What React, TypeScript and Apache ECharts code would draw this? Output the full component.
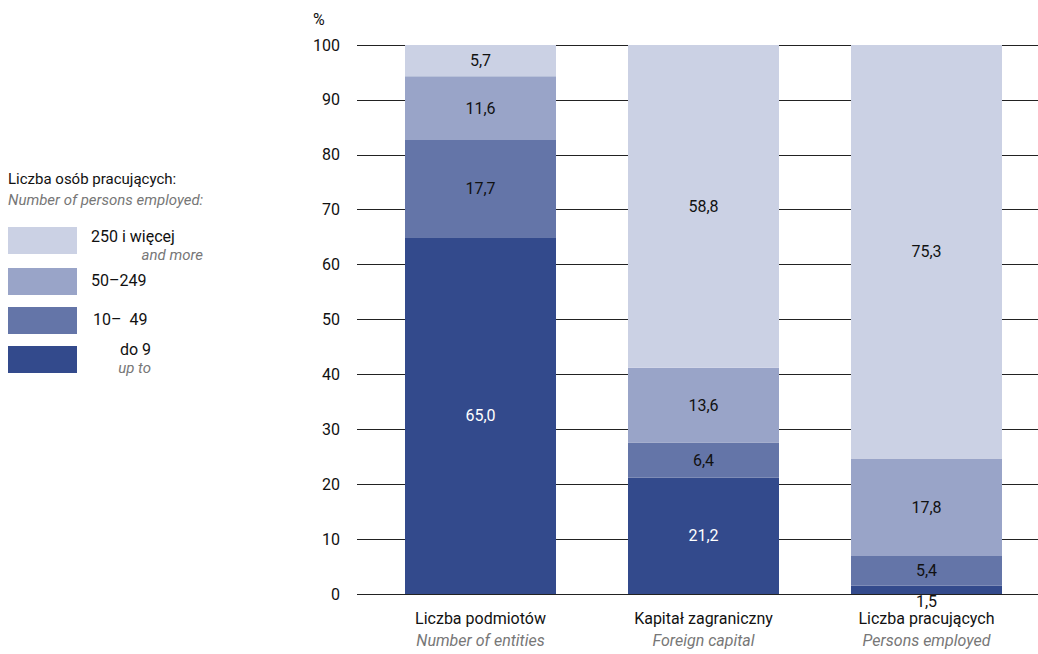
import React, { useEffect, useRef } from "react";
import * as echarts from "echarts";

const categoriesPl = ["Liczba podmiotów", "Kapitał zagraniczny", "Liczba pracujących"];
const categoriesEn = ["Number of entities", "Foreign capital", "Persons employed"];
const seriesNames = ["do 9", "10– 49", "50–249", "250 i więcej"];
const upTo9 = [65.0, 21.2, 1.5];
const from10to49 = [17.7, 6.4, 5.4];
const from50to249 = [11.6, 13.6, 17.8];
const over250 = [5.7, 58.8, 75.3];
const colors = ["#334a8c", "#6475a8", "#99a4c8", "#cbd1e4"];
const labelColors = ["#ffffff", "#111111", "#111111", "#111111"];

const FONT = "Roboto";

export default function App() {
  const ref = useRef<HTMLDivElement>(null);
  useEffect(() => {
    const chart = echarts.init(ref.current!, undefined, { renderer: "svg" });
    const fmt = (p: any) => Number(p.value).toFixed(1).replace(".", ",");
    const all = [upTo9, from10to49, from50to249, over250];
    const series = all.map((vals, i) => ({
      name: seriesNames[i],
      type: "bar",
      stack: "s",
      xAxisIndex: 1,
      yAxisIndex: 1,
      barWidth: 151,
      itemStyle: { color: colors[i] },
      label: {
        show: true,
        position: "inside",
        formatter: fmt,
        color: labelColors[i],
        fontFamily: FONT,
        fontSize: 16,
      },
      data: vals.map((v, j) =>
        i === 0 && v < 3
          ? { value: v, label: { position: "bottom", distance: -1, color: "#111" } }
          : v
      ),
    }));
    const legendY = [227, 268, 307, 346];
    const legendGraphics: any[] = [
      { type: "text", x: 8, y: 171, style: { text: "Liczba osób pracujących:", font: `15px "${FONT}"`, fill: "#111" } },
      { type: "text", x: 8, y: 192, style: { text: "Number of persons employed:", font: `italic 15px "${FONT}"`, fill: "#777" } },
    ];
    legendY.forEach((y, k) => {
      legendGraphics.push({ type: "rect", shape: { x: 8, y, width: 69, height: 27 }, style: { fill: colors[3 - k] } });
    });
    legendGraphics.push(
      { type: "text", x: 91, y: 228, style: { text: "250 i więcej", font: `16px "${FONT}"`, fill: "#111" } },
      { type: "text", x: 203, y: 247, style: { text: "and more", font: `italic 15px "${FONT}"`, fill: "#777", align: "right" } },
      { type: "text", x: 91, y: 272, style: { text: "50–249", font: `16px "${FONT}"`, fill: "#111" } },
      { type: "text", x: 93, y: 311, style: { text: "10–  49", font: `16px "${FONT}"`, fill: "#111" } },
      { type: "text", x: 151, y: 341, style: { text: "do 9", font: `16px "${FONT}"`, fill: "#111", align: "right" } },
      { type: "text", x: 151, y: 360, style: { text: "up to", font: `italic 15px "${FONT}"`, fill: "#777", align: "right" } },
      { type: "text", x: 313, y: 11, style: { text: "%", font: `16px "${FONT}"`, fill: "#111" } }
    );
    chart.setOption({
      animation: false,
      grid: [
        { left: 357, right: 0, top: 45, bottom: 60 },
        { left: 369, width: 674, top: 45, bottom: 60 },
      ],
      xAxis: [
        { type: "value", gridIndex: 0, show: false },
        {
          type: "category",
          gridIndex: 1,
          data: categoriesPl.map((c, i) => c + "\n" + categoriesEn[i]),
          axisLine: { show: false },
          axisTick: { show: false },
          axisLabel: {
            margin: 13,
            interval: 0,
            formatter: (v: string) => {
              const [a, b] = v.split("\n");
              return `{a|${a}}\n{b|${b}}`;
            },
            rich: {
              a: { fontFamily: FONT, fontSize: 16, color: "#111", lineHeight: 22 },
              b: { fontFamily: FONT, fontSize: 16, fontStyle: "italic", color: "#777", lineHeight: 22 },
            },
          },
        },
      ],
      yAxis: [
        {
          type: "value",
          gridIndex: 0,
          min: 0,
          max: 100,
          interval: 10,
          axisLine: { show: false },
          axisTick: { show: false },
          splitLine: { lineStyle: { color: "#222", width: 1 } },
          axisLabel: { margin: 17, fontFamily: FONT, fontSize: 16, color: "#111" },
        },
        { type: "value", gridIndex: 1, min: 0, max: 100, show: false },
      ],
      graphic: legendGraphics,
      series,
    });
    return () => chart.dispose();
  }, []);
  return <div ref={ref} style={{ width: 1038, height: 654, position: "absolute", left: 0, top: 0 }} />;
}
